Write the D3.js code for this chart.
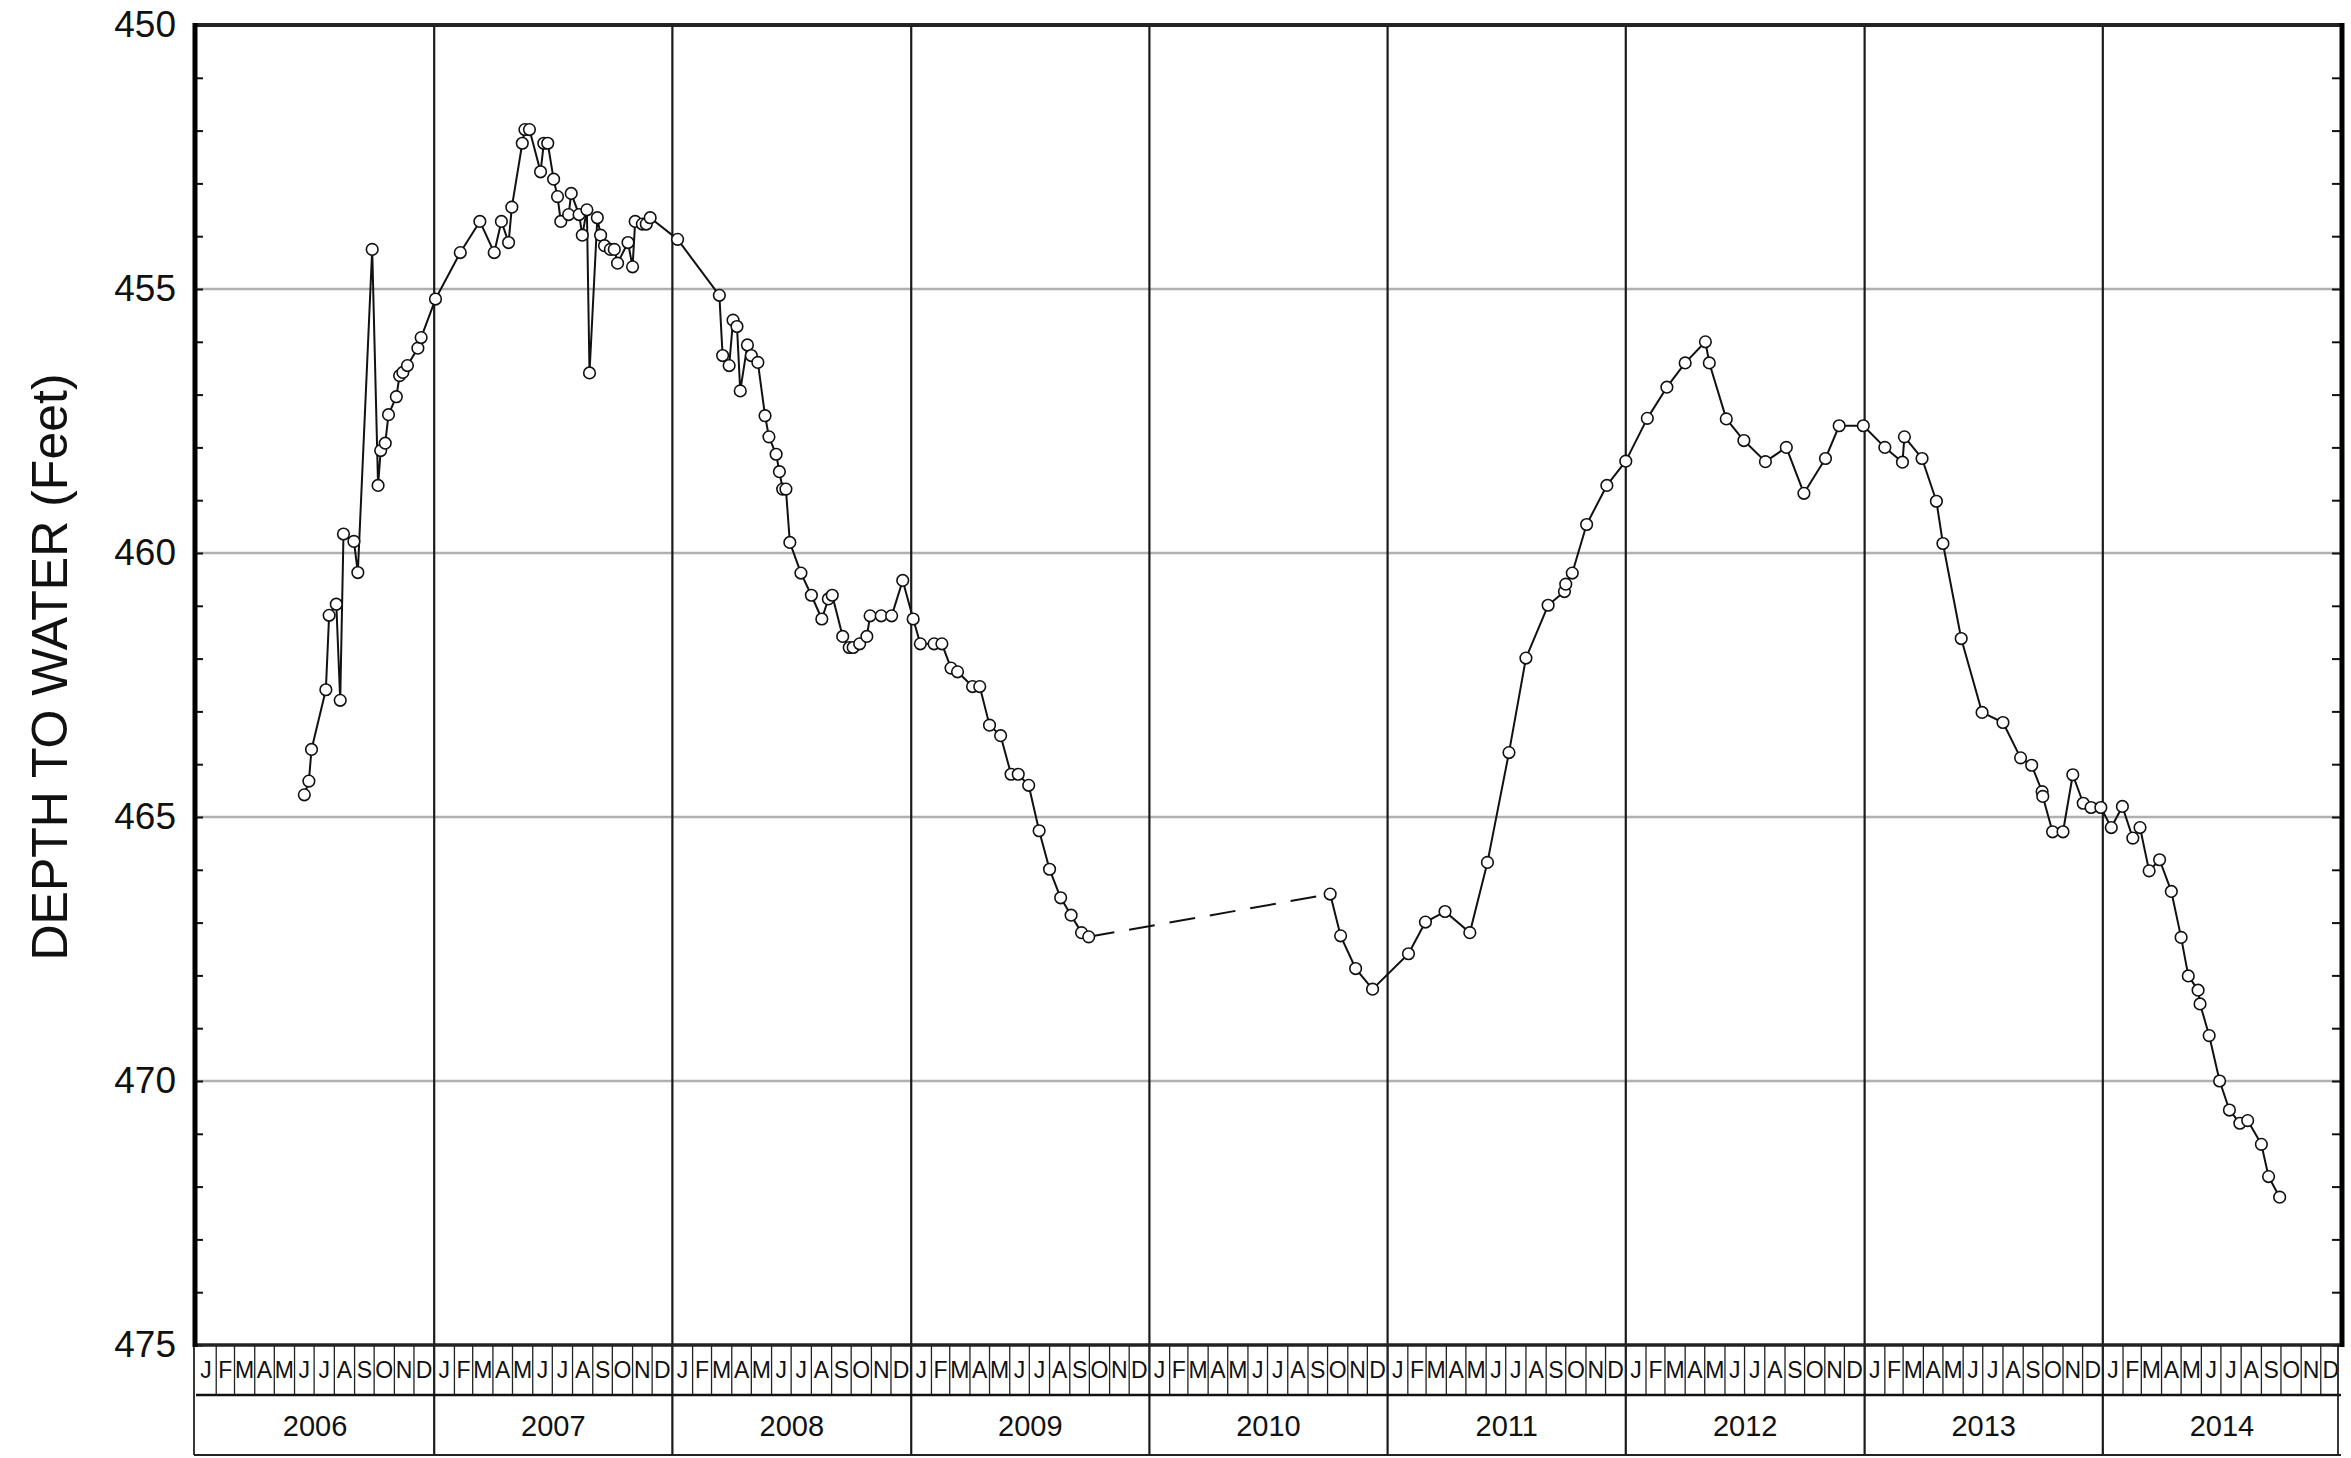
<!DOCTYPE html>
<html>
<head>
<meta charset="utf-8">
<script src="https://cdn.jsdelivr.net/npm/d3@7"></script>
<style>
  html, body { margin: 0; padding: 0; background: #fff; }
  svg { display: block; font-family: "Liberation Sans", Arial, Helvetica, sans-serif; }
</style>
</head>
<body>
<svg id="chart" width="2351" height="1458"></svg>
<script>
// ---------------- DATA ----------------
const years = [2006, 2007, 2008, 2009, 2010, 2011, 2012, 2013, 2014];
const monthLetters = ["J","F","M","A","M","J","J","A","S","O","N","D"];
const yTickLabels = [450, 455, 460, 465, 470, 475];
const yTitle = "DEPTH TO WATER (Feet)";

const dates = [
  "2006-06-16","2006-06-23","2006-06-27","2006-07-19","2006-07-24","2006-08-04","2006-08-10","2006-08-15",
  "2006-08-31","2006-09-06","2006-09-28","2006-10-07","2006-10-11","2006-10-18","2006-10-23","2006-11-04",
  "2006-11-09","2006-11-14","2006-11-21","2006-12-07","2006-12-12",
  "2007-01-03","2007-02-10","2007-03-12","2007-04-03","2007-04-14","2007-04-25","2007-04-30","2007-05-16",
  "2007-05-20","2007-05-27","2007-06-13","2007-06-18","2007-06-24","2007-07-03","2007-07-09","2007-07-14",
  "2007-07-26","2007-07-30","2007-08-11","2007-08-16","2007-08-23","2007-08-27","2007-09-08","2007-09-13",
  "2007-09-19","2007-09-28","2007-10-04","2007-10-09","2007-10-25","2007-11-01","2007-11-05","2007-11-16",
  "2007-11-22","2007-11-28",
  "2008-01-09","2008-03-13","2008-03-18","2008-03-28","2008-04-03","2008-04-09","2008-04-14","2008-04-25",
  "2008-05-01","2008-05-11","2008-05-22","2008-05-28","2008-06-08","2008-06-13","2008-06-18","2008-06-23",
  "2008-06-29","2008-07-16","2008-08-01","2008-08-17","2008-08-27","2008-09-02","2008-09-18","2008-09-28",
  "2008-10-04","2008-10-14","2008-10-25","2008-10-30","2008-11-16","2008-12-02","2008-12-19",
  "2009-01-04","2009-01-15","2009-02-05","2009-02-17","2009-03-03","2009-03-13","2009-04-05","2009-04-16",
  "2009-05-01","2009-05-18","2009-06-03","2009-06-14","2009-06-30","2009-07-16","2009-08-01","2009-08-18",
  "2009-09-03","2009-09-19","2009-09-30",
  "2010-10-05","2010-10-21","2010-11-13","2010-12-09",
  "2011-02-02","2011-02-28","2011-03-30","2011-05-07","2011-06-03","2011-07-06","2011-08-01","2011-09-04",
  "2011-09-29","2011-10-01","2011-10-11","2011-11-02","2011-12-03",
  "2012-01-01","2012-02-03","2012-03-04","2012-04-01","2012-05-02","2012-05-08","2012-06-03","2012-06-30",
  "2012-08-02","2012-09-03","2012-09-30","2012-11-02","2012-11-23","2012-12-30",
  "2013-02-01","2013-02-28","2013-03-03","2013-03-30","2013-04-21","2013-05-01","2013-05-29","2013-06-30",
  "2013-08-01","2013-08-28","2013-09-14","2013-09-30","2013-10-01","2013-10-16","2013-11-01","2013-11-16",
  "2013-12-02","2013-12-14","2013-12-29",
  "2014-01-14","2014-01-31","2014-02-16","2014-02-27","2014-03-13","2014-03-29","2014-04-16","2014-05-01",
  "2014-05-12","2014-05-27","2014-05-30","2014-06-13","2014-06-29","2014-07-14","2014-07-30","2014-08-11",
  "2014-09-01","2014-09-12","2014-09-29"
];

const depths = [
  464.58,464.32,463.72,462.59,461.18,460.97,462.79,459.64,
  459.78,460.37,454.25,458.72,458.06,457.92,457.38,457.04,
  456.64,456.58,456.45,456.12,455.92,
  455.19,454.31,453.72,454.31,453.72,454.12,453.45,452.24,
  451.98,451.98,452.78,452.24,452.24,452.92,453.25,453.72,
  453.59,453.19,453.59,453.98,453.50,456.59,453.65,453.98,
  454.18,454.25,454.25,454.51,454.12,454.58,453.72,453.77,
  453.77,453.65,
  454.06,455.12,456.26,456.45,455.59,455.71,456.93,456.06,
  456.26,456.39,457.40,457.80,458.13,458.46,458.79,458.79,
  459.80,460.38,460.80,461.25,460.87,460.80,461.58,461.79,
  461.79,461.72,461.58,461.19,461.19,461.19,460.52,
  461.25,461.72,461.72,461.72,462.18,462.25,462.53,462.53,
  463.26,463.46,464.19,464.19,464.40,465.26,465.99,466.53,
  466.86,467.19,467.27,
  466.46,467.25,467.87,468.26,
  467.59,466.99,466.79,467.19,465.86,463.78,461.99,460.99,
  460.73,460.59,460.38,459.46,458.72,
  458.26,457.45,456.86,456.40,456.00,456.40,457.46,457.87,
  458.27,458.00,458.87,458.21,457.59,457.59,
  458.00,458.28,457.80,458.21,459.02,459.82,461.62,463.02,
  463.21,463.88,464.02,464.52,464.61,465.28,465.28,464.20,
  464.74,464.82,464.82,
  465.20,464.80,465.40,465.20,466.02,465.81,466.41,467.28,
  468.01,468.28,468.54,469.14,470.00,470.55,470.80,470.75,
  471.20,471.81,472.20
];

// measurements not taken between these two dates (dashed connection)
const gapStart = "2009-09-30";
const gapEnd = "2010-10-05";

// ---------------- LAYOUT ----------------
const W = 2351, H = 1458;
const L = 196, R = 2341, T = 25, B = 1345;
const monthRowB = 1395, yearRowB = 1455;

const parse = d3.timeParse("%Y-%m-%d");
const data = dates.map((d, i) => ({ date: parse(d), depth: depths[i] }));

const x = d3.scaleTime()
  .domain([new Date(years[0], 0, 1), new Date(years[years.length - 1] + 1, 0, 1)])
  .range([L, R]);
const y = d3.scaleLinear()
  .domain([yTickLabels[0], yTickLabels[yTickLabels.length - 1]])
  .range([T, B]);

const svg = d3.select("#chart");
svg.append("rect").attr("width", W).attr("height", H).attr("fill", "#fff");

// horizontal grid lines
svg.append("g")
  .selectAll("line")
  .data(yTickLabels.slice(1, -1))
  .join("line")
  .attr("x1", L).attr("x2", R)
  .attr("y1", d => y(d)).attr("y2", d => y(d))
  .attr("stroke", "#b0b0b0").attr("stroke-width", 2.4);

// vertical year lines (through plot, month row, year row)
const yearStarts = d3.timeYear.range(x.domain()[0], x.domain()[1]);
svg.append("g")
  .selectAll("line")
  .data(yearStarts.slice(1))
  .join("line")
  .attr("x1", d => x(d)).attr("x2", d => x(d))
  .attr("y1", T).attr("y2", yearRowB)
  .attr("stroke", "#1a1a1a").attr("stroke-width", 2.2);

// minor ticks every foot, inside, left & right
const minor = d3.range(yTickLabels[0], yTickLabels[yTickLabels.length - 1] + 1, 1);
svg.append("g")
  .attr("transform", `translate(${L},0)`)
  .call(d3.axisLeft(y).tickValues(minor).tickSize(-7).tickFormat(""))
  .call(g => g.select(".domain").remove())
  .selectAll("line").attr("stroke", "#111").attr("stroke-width", 2);
svg.append("g")
  .attr("transform", `translate(${R},0)`)
  .call(d3.axisRight(y).tickValues(minor).tickSize(-9).tickFormat(""))
  .call(g => g.select(".domain").remove())
  .selectAll("line").attr("stroke", "#111").attr("stroke-width", 2);

// y tick labels
const yAx = svg.append("g")
  .attr("transform", `translate(${L},0)`)
  .call(d3.axisLeft(y).tickValues(yTickLabels).tickSize(0).tickPadding(20).tickFormat(d3.format("d")));
yAx.select(".domain").remove();
yAx.selectAll("text")
  .attr("font-size", 37).attr("fill", "#111")
  .attr("font-family", "'Liberation Sans', Arial, sans-serif");

// y title
svg.append("text")
  .attr("transform", `translate(67,${(T + B) / 2 - 18}) rotate(-90)`)
  .attr("text-anchor", "middle")
  .attr("font-size", 50)
  .attr("fill", "#111")
  .text(yTitle);

// month row
const months = d3.timeMonth.range(x.domain()[0], x.domain()[1]);
const mg = svg.append("g");
mg.selectAll("line")
  .data(months.slice(1))
  .join("line")
  .attr("x1", d => x(d)).attr("x2", d => x(d))
  .attr("y1", B).attr("y2", monthRowB)
  .attr("stroke", "#222").attr("stroke-width", 1.3);
mg.selectAll("text")
  .data(months)
  .join("text")
  .attr("x", d => (x(d) + x(d3.timeMonth.offset(d, 1))) / 2)
  .attr("y", (B + monthRowB) / 2 + 8)
  .attr("text-anchor", "middle")
  .attr("font-size", 23)
  .attr("fill", "#111")
  .text(d => monthLetters[d.getMonth()]);

// year row
svg.append("g")
  .selectAll("text")
  .data(yearStarts)
  .join("text")
  .attr("x", d => (x(d) + x(d3.timeYear.offset(d, 1))) / 2)
  .attr("y", (monthRowB + yearRowB) / 2 + 11)
  .attr("text-anchor", "middle")
  .attr("font-size", 29)
  .attr("fill", "#111")
  .text(d => d.getFullYear());

// boxes/borders
svg.append("line").attr("x1", L).attr("x2", R).attr("y1", monthRowB).attr("y2", monthRowB)
  .attr("stroke", "#111").attr("stroke-width", 2.5);
svg.append("line").attr("x1", L - 2).attr("x2", R).attr("y1", yearRowB).attr("y2", yearRowB)
  .attr("stroke", "#222").attr("stroke-width", 1.8);
svg.append("line").attr("x1", L - 2).attr("x2", L - 2).attr("y1", B).attr("y2", yearRowB)
  .attr("stroke", "#222").attr("stroke-width", 1.8);
svg.append("line").attr("x1", R - 3).attr("x2", R - 3).attr("y1", B).attr("y2", yearRowB)
  .attr("stroke", "#222").attr("stroke-width", 1.8);

// plot frame
svg.append("line").attr("x1", L - 2).attr("x2", R + 2).attr("y1", T).attr("y2", T)
  .attr("stroke", "#222").attr("stroke-width", 4);
svg.append("line").attr("x1", L - 2).attr("x2", R + 2).attr("y1", B).attr("y2", B)
  .attr("stroke", "#222").attr("stroke-width", 3.5);
svg.append("line").attr("x1", L - 1).attr("x2", L - 1).attr("y1", T - 2).attr("y2", B + 2)
  .attr("stroke", "#000").attr("stroke-width", 5);
svg.append("line").attr("x1", R + 1).attr("x2", R + 1).attr("y1", T - 2).attr("y2", B + 2)
  .attr("stroke", "#000").attr("stroke-width", 5);

// ---------------- SERIES ----------------
const gs = parse(gapStart), ge = parse(gapEnd);
const seg1 = data.filter(d => d.date <= gs);
const seg2 = data.filter(d => d.date >= ge);
const gapSeg = data.filter(d => +d.date === +gs || +d.date === +ge);

const line = d3.line().x(d => x(d.date)).y(d => y(d.depth));
const lg = svg.append("g");
[seg1, seg2].forEach(s => {
  lg.append("path").datum(s).attr("d", line)
    .attr("fill", "none").attr("stroke", "#111").attr("stroke-width", 2)
    .attr("stroke-linejoin", "round");
});
lg.append("path").datum(gapSeg).attr("d", line)
  .attr("fill", "none").attr("stroke", "#111").attr("stroke-width", 2)
  .attr("stroke-dasharray", "26,15");

svg.append("g")
  .selectAll("circle")
  .data(data)
  .join("circle")
  .attr("cx", d => x(d.date))
  .attr("cy", d => y(d.depth))
  .attr("r", 5.8)
  .attr("fill", "#fff")
  .attr("stroke", "#111")
  .attr("stroke-width", 1.6);
</script>
</body>
</html>
